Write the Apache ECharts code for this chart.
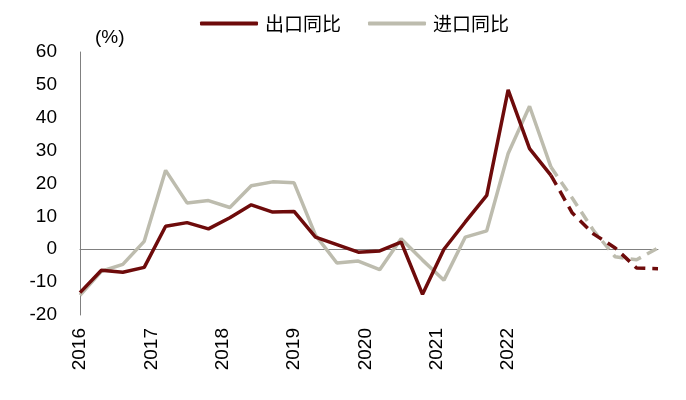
<!DOCTYPE html>
<html>
<head>
<meta charset="utf-8">
<script src="https://cdn.jsdelivr.net/npm/echarts@6/dist/echarts.min.js"></script>
<style>html,body{margin:0;padding:0;background:#fff;}#c{width:686px;height:400px;}</style>
</head>
<body>
<div id="c"></div>
<script>
// Quarterly categories 2016Q1 .. 2022Q4
const categories = [
  '2016Q1','2016Q2','2016Q3','2016Q4','2017Q1','2017Q2','2017Q3','2017Q4',
  '2018Q1','2018Q2','2018Q3','2018Q4','2019Q1','2019Q2','2019Q3','2019Q4',
  '2020Q1','2020Q2','2020Q3','2020Q4','2021Q1','2021Q2','2021Q3','2021Q4',
  '2022Q1','2022Q2','2022Q3','2022Q4'
];
// 出口同比 (%)
const exportYoY = [
  -13.2, -6.4, -7.0, -5.5, 7.0, 8.1, 6.2, 9.6,
  13.5, 11.3, 11.5, 3.7, 1.4, -0.9, -0.5, 2.2,
  -13.7, 0.0, 8.3, 16.4, 48.5, 30.6, 22.5, 11.0,
  4.6, 0.4, -5.7, -5.9
];
// 进口同比 (%)
const importYoY = [
  -14.0, -6.7, -4.6, 2.4, 24.0, 14.1, 14.8, 12.7,
  19.3, 20.5, 20.2, 4.3, -4.2, -3.6, -6.2, 3.2,
  -3.3, -9.4, 3.7, 5.6, 29.1, 43.5, 25.0, 15.5,
  5.6, -2.3, -3.2, 0.4
];
// index of last actual (solid) point; dashed from here on
const forecastStart = 22;
const yearLabels = ['2016','2017','2018','2019','2020','2021','2022'];
const yearLabelStep = 10 / 3; // label spacing in quarters
const seriesNames = ['出口同比', '进口同比'];

const solid = arr => arr.map((v, i) => i <= forecastStart ? v : null);
const dashed = arr => arr.map((v, i) => i >= forecastStart ? v : null);

const exportColor = '#6E0B0B';
const importColor = '#BDBCAE';
const numFont = 'Liberation Sans, Arial, sans-serif';

const chart = echarts.init(document.getElementById('c'), null, {renderer: 'canvas'});
chart.setOption({
  animation: false,
  backgroundColor: '#fff',
  grid: {left: 80, top: 52, width: 578, height: 263, containLabel: false},
  legend: {
    data: seriesNames,
    left: 200, top: 14, padding: 0,
    icon: 'roundRect',
    itemWidth: 58, itemHeight: 4, itemGap: 27,
    textStyle: {fontFamily: 'Noto Sans CJK SC', fontSize: 19, color: '#000', padding: [0, 0, 0, 2]}
  },
  xAxis: [
    {
      type: 'category', data: categories, boundaryGap: false,
      axisLine: {show: true, onZero: true, lineStyle: {color: '#808080', width: 1}},
      axisTick: {show: false}, axisLabel: {show: false}, splitLine: {show: false}
    },
    {
      type: 'value', position: 'bottom', min: 0, max: categories.length - 1,
      interval: yearLabelStep,
      axisLine: {show: false}, axisTick: {show: false}, splitLine: {show: false},
      axisLabel: {
        rotate: 90, margin: 13, fontSize: 19, fontFamily: numFont, color: '#000',
        showMaxLabel: false,
        formatter: v => {
          const k = v / yearLabelStep;
          if (Math.abs(k - Math.round(k)) > 1e-6) return '';
          return yearLabels[Math.round(k)] || '';
        }
      }
    }
  ],
  yAxis: {
    type: 'value', min: -20, max: 60, interval: 10,
    name: '(%)', nameLocation: 'end', nameGap: 14,
    nameTextStyle: {fontSize: 19, fontFamily: numFont, color: '#000', align: 'left', verticalAlign: 'middle', padding: [0, 0, 0, 15]},
    axisLine: {show: true, lineStyle: {color: '#808080', width: 1}},
    axisTick: {show: false}, splitLine: {show: false},
    axisLabel: {fontSize: 19, fontFamily: numFont, color: '#000', margin: 23}
  },
  series: [
    {name: '进口同比', type: 'line', xAxisIndex: 0, data: solid(importYoY), symbol: 'none',
     lineStyle: {color: importColor, width: 3.5}, itemStyle: {color: importColor}},
    {name: '进口同比预测', type: 'line', xAxisIndex: 0, data: dashed(importYoY), symbol: 'none',
     lineStyle: {color: importColor, width: 3.5, type: [11, 7]}, itemStyle: {color: importColor}},
    {name: '出口同比', type: 'line', xAxisIndex: 0, data: solid(exportYoY), symbol: 'none',
     lineStyle: {color: exportColor, width: 3.5}, itemStyle: {color: exportColor}},
    {name: '出口同比预测', type: 'line', xAxisIndex: 0, data: dashed(exportYoY), symbol: 'none',
     lineStyle: {color: exportColor, width: 3.5, type: [11, 7]}, itemStyle: {color: exportColor}}
  ]
});
</script>
</body>
</html>
